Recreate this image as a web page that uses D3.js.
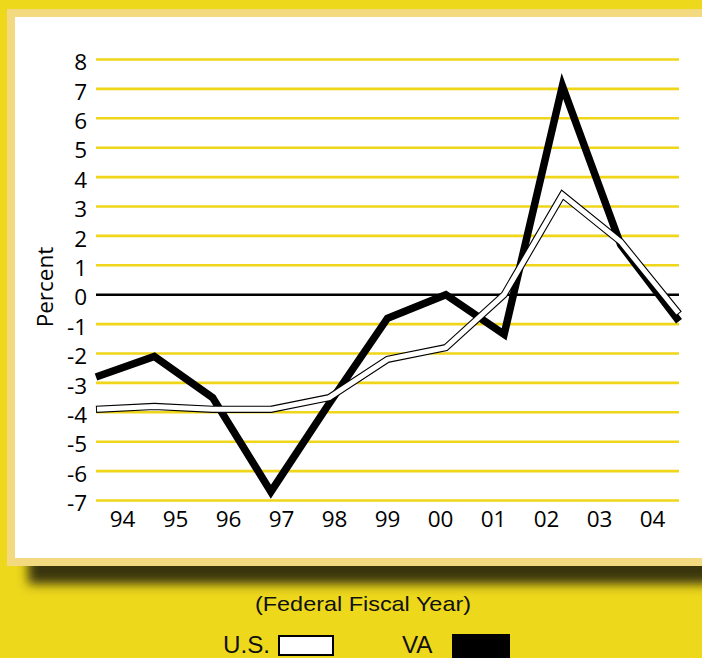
<!DOCTYPE html>
<html>
<head>
<meta charset="utf-8">
<script src="https://cdn.jsdelivr.net/npm/d3@7"></script>
<style>
  html, body { margin: 0; padding: 0; background: #EDD81C; }
  svg { display: block; }
</style>
</head>
<body>
<svg id="chart" width="702" height="658"></svg>
<script>
// Annual percent change, federal fiscal years 1994–2004
const years = ["94", "95", "96", "97", "98", "99", "00", "01", "02", "03", "04"];
const vaValues = [-2.8, -2.1, -3.5, -6.7, -3.7, -0.8, 0.0, -1.35, 7.1, 1.7, -0.9];
const usValues = [-3.9, -3.8, -3.9, -3.9, -3.5, -2.2, -1.8, 0.0, 3.4, 1.8, -0.65];
const yTicks = d3.range(-7, 9);
const xTitle = "(Federal Fiscal Year)";
const yTitle = "Percent";
const legendItems = [
  { label: "U.S.", fill: "#ffffff" },
  { label: "VA", fill: "#000000" }
];

const svg = d3.select("#chart");
const tickFont = "'Open Sans', 'Noto Sans', sans-serif";
const plainFont = "'Liberation Sans', Arial, sans-serif";
const yellow = "#EDD81C";

// background
svg.append("rect").attr("width", 702).attr("height", 658).attr("fill", yellow);

// soft drop shadow under the panel
const defs = svg.append("defs");
const blur = defs.append("filter").attr("id", "shadowBlur")
  .attr("filterUnits", "userSpaceOnUse")
  .attr("x", 0).attr("y", 0).attr("width", 900).attr("height", 700);
blur.append("feGaussianBlur").attr("stdDeviation", 5.5);

svg.append("rect")
  .attr("x", 28).attr("y", 500).attr("width", 800).attr("height", 84)
  .attr("fill", "#3b3409")
  .attr("filter", "url(#shadowBlur)");

// panel with a pale border
svg.append("rect").attr("x", 7).attr("y", 9).attr("width", 800).attr("height", 557).attr("fill", "#F3DA80");
svg.append("rect").attr("x", 15).attr("y", 17).attr("width", 800).attr("height", 541).attr("fill", "#ffffff");

// scales
const x = d3.scalePoint().domain(years).range([96, 679]);
const xLabel = d3.scalePoint().domain(years).range([122, 652]);
const y = d3.scaleLinear().domain([-7, 8]).range([500.5, 59.5]);

// horizontal grid
const grid = svg.append("g");
grid.selectAll("line")
  .data(yTicks.filter(d => d !== 0))
  .join("line")
  .attr("x1", x.range()[0]).attr("x2", x.range()[1])
  .attr("y1", d => y(d)).attr("y2", d => y(d))
  .attr("stroke", "#EFD619")
  .attr("stroke-width", 2.6);

svg.append("line")
  .attr("x1", x.range()[0]).attr("x2", x.range()[1])
  .attr("y1", y(0)).attr("y2", y(0))
  .attr("stroke", "#000")
  .attr("stroke-width", 2.6);

// y axis labels
const yAxis = svg.append("g")
  .attr("transform", "translate(87,0)")
  .call(d3.axisLeft(y).tickValues(yTicks).tickSize(0).tickPadding(0).tickFormat(d => String(d)));
yAxis.select(".domain").remove();
yAxis.selectAll("text")
  .attr("dy", "0.45em")
  .style("font-family", tickFont)
  .style("font-size", "22.5px")
  .attr("fill", "#000");

// x axis labels
const xAxis = svg.append("g")
  .attr("transform", "translate(0,511)")
  .call(d3.axisBottom(xLabel).tickSize(0).tickPadding(0));
xAxis.select(".domain").remove();
xAxis.selectAll("text")
  .style("font-family", tickFont)
  .style("font-size", "22.5px")
  .attr("fill", "#000");

// y title
svg.append("text")
  .attr("transform", "translate(53,287) rotate(-90)")
  .attr("text-anchor", "middle")
  .style("font-family", tickFont)
  .style("font-size", "22.5px")
  .attr("fill", "#000")
  .text(yTitle);

// series lines
const line = d3.line()
  .x((d, i) => x(years[i]))
  .y(d => y(d));

svg.append("path")
  .attr("d", line(vaValues))
  .attr("fill", "none")
  .attr("stroke", "#000")
  .attr("stroke-width", 7.5)
  .attr("stroke-linejoin", "miter")
  .attr("stroke-miterlimit", 12);

svg.append("path")
  .attr("d", line(usValues))
  .attr("fill", "none")
  .attr("stroke", "#000")
  .attr("stroke-width", 7.2)
  .attr("stroke-linejoin", "miter")
  .attr("stroke-miterlimit", 12);

const usInner = svg.append("path")
  .attr("d", line(usValues))
  .attr("fill", "none")
  .attr("stroke", "#fff")
  .attr("stroke-width", 5)
  .attr("stroke-linejoin", "miter")
  .attr("stroke-miterlimit", 12);
const len = usInner.node().getTotalLength();
usInner.attr("stroke-dasharray", `${len - 2} ${len}`).attr("stroke-dashoffset", -1);

// x title
svg.append("text")
  .attr("x", 255).attr("y", 611)
  .attr("textLength", 216)
  .attr("lengthAdjust", "spacingAndGlyphs")
  .style("font-family", plainFont)
  .style("font-size", "21px")
  .attr("fill", "#111")
  .text(xTitle);

// legend
const legendLayout = [
  { tx: 223, tw: 47, bx: 278, by: 635, bw: 56, bh: 21 },
  { tx: 402, tw: 30.5, bx: 452, by: 634, bw: 58, bh: 24 }
];
legendItems.forEach((item, i) => {
  const L = legendLayout[i];
  svg.append("text")
    .attr("x", L.tx).attr("y", 653)
    .attr("textLength", L.tw)
    .attr("lengthAdjust", "spacingAndGlyphs")
    .style("font-family", plainFont)
    .style("font-size", "24px")
    .attr("fill", "#111")
    .text(item.label);
  svg.append("rect")
    .attr("x", L.bx + 1).attr("y", L.by + 1)
    .attr("width", L.bw - 2).attr("height", L.bh - 2)
    .attr("fill", item.fill)
    .attr("stroke", "#000")
    .attr("stroke-width", 2);
});
</script>
</body>
</html>
